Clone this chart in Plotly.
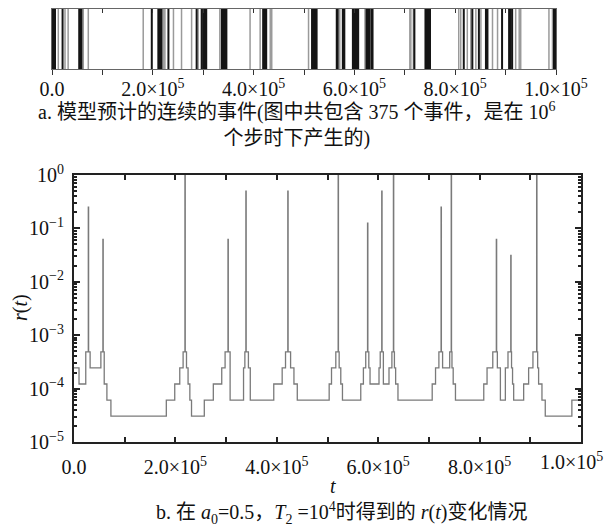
import plotly.graph_objects as go

# ---------------- data ----------------
# event times (top raster), dark = dense/black bands, light = single grey events
events_dark = [2000, 6000, 21000, 54000, 55500, 57000, 58500, 198000, 211000, 212500,
               214000, 215500, 217000, 231000, 287000, 297000, 300000, 301500, 303000,
               304500, 306000, 337000, 338500, 340000, 343000, 344500, 346000, 419000,
               420500, 422000, 423500, 425000, 516000, 517500, 519000, 520500, 522000,
               523500, 525000, 565000, 566500, 577000, 578500, 580000, 597000, 598500,
               600000, 601500, 603000, 604500, 606000, 607500, 624000, 625500, 627000,
               628500, 630000, 634000, 636000, 719000, 741000, 742500, 744000, 745500,
               747000, 748500, 750000, 817000, 834000, 847000, 861000, 862500, 864000,
               893000, 907000, 908500, 910000, 913000, 996000, 997500, 999000]
events_light = [12500, 25800, 32000, 62000, 72000, 181000, 220000, 222000, 224000,
                241000, 257000, 277000, 290000, 333000, 393000, 413000, 433000, 436000,
                509000, 568000, 571000, 621000, 710000, 712000, 717000, 807000, 811000,
                824000, 831000, 841000, 851000, 874000, 884000, 920000, 927000, 930000,
                986000, 993000]

# r(t) step function: change points and values
r_t = [0, 9900, 23200, 28200, 28800, 31800, 53000, 57000, 57600, 59600, 64900, 72800,
       182100, 198700, 208600, 215200, 218800, 219400, 221900, 225000, 228500, 231800,
       257000, 274800, 291400, 298000, 303700, 304300, 307900, 334400, 337000, 339000,
       339600, 344000, 347700, 394000, 410600, 417200, 421700, 422300, 427200, 433800,
       440400, 503300, 507900, 516400, 521000, 521600, 523000, 526200, 529500, 565600,
       570800, 575400, 579000, 579600, 581500, 583900, 601600, 604000, 607000, 607600,
       610200, 621300, 627000, 630000, 630600, 632000, 634400, 639000, 706500, 713100,
       719700, 724000, 724600, 727000, 741000, 744000, 744600, 745500, 747900, 752400,
       808200, 814700, 826000, 833000, 833600, 835000, 841000, 850800, 856000, 861500,
       862100, 863000, 865000, 867200, 886900, 896700, 905200, 912500, 913100, 914500,
       916400, 923000, 929500, 982000, 1000000]
r_val = [2.44e-4, 1.22e-4, 4.88e-4, 0.25, 4.88e-4, 2.44e-4, 4.88e-4, 0.0625, 4.88e-4,
         1.22e-4, 6.1e-5, 3.05e-5,
         6.1e-5, 1.22e-4, 2.44e-4, 4.88e-4, 1.0, 4.88e-4, 2.44e-4, 1.22e-4, 6.1e-5, 3.05e-5,
         6.1e-5, 1.22e-4, 2.44e-4, 4.88e-4, 0.0625, 4.88e-4, 6.1e-5, 2.44e-4, 4.88e-4, 0.5,
         4.88e-4, 2.44e-4, 6.1e-5, 1.22e-4, 2.44e-4, 4.88e-4, 0.5, 4.88e-4, 2.44e-4, 1.22e-4,
         6.1e-5, 1.22e-4, 2.44e-4, 4.88e-4, 1.0, 4.88e-4, 2.44e-4, 1.22e-4, 6.1e-5, 1.22e-4,
         2.44e-4, 4.88e-4, 0.125, 4.88e-4, 2.44e-4, 1.22e-4, 2.44e-4, 4.88e-4, 0.5, 4.88e-4,
         1.22e-4, 2.44e-4, 4.88e-4, 1.0, 4.88e-4, 2.44e-4, 1.22e-4, 6.1e-5, 1.22e-4, 2.44e-4,
         4.88e-4, 0.25, 4.88e-4, 2.44e-4, 4.88e-4, 1.0, 4.88e-4, 2.44e-4, 1.22e-4, 6.1e-5,
         1.22e-4, 2.44e-4, 4.88e-4, 0.0625, 4.88e-4, 2.44e-4, 6.1e-5, 2.44e-4, 4.88e-4, 0.03125,
         4.88e-4, 2.44e-4, 1.22e-4, 6.1e-5, 1.22e-4, 2.44e-4, 4.88e-4, 1.0, 4.88e-4, 2.44e-4,
         1.22e-4, 6.1e-5, 3.05e-5, 6.1e-5, 6.1e-5]

x_tickvals = [0, 1e5, 2e5, 3e5, 4e5, 5e5, 6e5, 7e5, 8e5, 9e5, 1e6]
x_ticktext = ["0.0", "", "2.0×10<sup>5</sup>", "", "4.0×10<sup>5</sup>", "",
              "6.0×10<sup>5</sup>", "", "8.0×10<sup>5</sup>", "", "1.0×10<sup>5</sup>"]
# lower panel: the last label sits left of its tick in the reference, drawn separately
x_ticktext_low = x_ticktext[:-1] + [""]
last_tick_label = x_ticktext[-1]
y_tickvals = [1e-5, 1e-4, 1e-3, 1e-2, 1e-1, 1]
y_ticktext = ["10<sup>−5</sup>", "10<sup>−4</sup>", "10<sup>−3</sup>",
              "10<sup>−2</sup>", "10<sup>−1</sup>", "10<sup>0</sup>"]

caption_a = "a. 模型预计的连续的事件(图中共包含 375 个事件，是在 10<sup>6</sup><br>个步时下产生的)"
caption_b = ("b. 在 <i>a</i><sub>0</sub>=0.5，<i>T</i><sub>2</sub> =10<sup>4</sup>时得到的 "
             "<i>r</i>(<i>t</i>)变化情况")

# ---------------- figure ----------------
W, H = 609, 528
FONT = "Liberation Serif, Noto Sans CJK SC, serif"


def px_x(p):
    return p / W


def px_y(p):
    return 1 - p / H


def raster(ts):
    xs, ys = [], []
    for t in ts:
        xs += [t, t, None]
        ys += [0, 1, None]
    return xs, ys


minor_log_ticks = [m * 10.0 ** e for e in range(-5, 0) for m in range(2, 10)]

fig = go.Figure()

lx, ly = raster(events_light)
fig.add_trace(go.Scatter(x=lx, y=ly, mode="lines", line=dict(color="#9a9a9a", width=1.5),
                         xaxis="x", yaxis="y", hoverinfo="skip", showlegend=False))
dx, dy = raster(events_dark)
fig.add_trace(go.Scatter(x=dx, y=dy, mode="lines", line=dict(color="#151515", width=2),
                         xaxis="x", yaxis="y", hoverinfo="skip", showlegend=False))
# invisible trace for the top tick axis of the raster
fig.add_trace(go.Scatter(x=[0, 1e6], y=[0.5, 0.5], mode="lines", line=dict(width=0),
                         opacity=0, xaxis="x3", yaxis="y", hoverinfo="skip", showlegend=False))

fig.add_trace(go.Scatter(x=r_t, y=r_val, mode="lines",
                         line=dict(color="#7a7a7a", width=1.3, shape="hv"),
                         xaxis="x2", yaxis="y2", showlegend=False))

top_dom_x = [px_x(52), px_x(556)]
top_dom_y = [px_y(69), px_y(9)]
bot_dom_x = [px_x(74), px_x(581)]
bot_dom_y = [px_y(442), px_y(175)]

tickfont = dict(family=FONT, size=20, color="#111")

fig.update_layout(
    width=W, height=H,
    margin=dict(l=0, r=0, t=0, b=0, autoexpand=False),
    paper_bgcolor="white", plot_bgcolor="white",
    font=dict(family=FONT, size=20, color="#111"),
    xaxis=dict(domain=top_dom_x, anchor="y", range=[0, 1e6], tickmode="array",
               tickvals=x_tickvals, ticktext=x_ticktext, ticks="outside", ticklen=5,
               tickcolor="#333", tickwidth=1.2, showline=True, linecolor="#666", linewidth=1,
               mirror=True, showgrid=False, zeroline=False, tickfont=tickfont,
               ticklabelstandoff=-3, ticklabeloverflow="allow", automargin=False),
    xaxis3=dict(overlaying="x", side="top", anchor="y", range=[0, 1e6], tickmode="array",
                tickvals=x_tickvals, ticks="inside", ticklen=4, tickcolor="#333", tickwidth=1.2,
                showticklabels=False, showline=False, showgrid=False, zeroline=False,
                automargin=False),
    yaxis=dict(domain=top_dom_y, anchor="x", range=[0, 1], showticklabels=False, ticks="",
               showline=True, linecolor="#666", linewidth=1, mirror=True, showgrid=False,
               zeroline=False, automargin=False),
    xaxis2=dict(domain=bot_dom_x, anchor="y2", range=[0, 1e6], tickmode="array",
                tickvals=x_tickvals, ticktext=x_ticktext_low, ticks="inside", ticklen=5,
                tickcolor="#222", tickwidth=1.5, showline=True, linecolor="#222", linewidth=2,
                mirror="allticks", showgrid=False, zeroline=False, tickfont=tickfont,
                ticklabelstandoff=6, automargin=False),
    yaxis2=dict(domain=bot_dom_y, anchor="x2", type="log", range=[-5, 0], tickmode="array",
                tickvals=y_tickvals, ticktext=y_ticktext, ticks="inside", ticklen=6,
                tickcolor="#222", tickwidth=1.5, showline=True, linecolor="#222", linewidth=2,
                mirror="allticks", showgrid=False, zeroline=False, tickfont=tickfont,
                minor=dict(ticks="inside", ticklen=3, tickcolor="#222", tickmode="array",
                           tickvals=minor_log_ticks, showgrid=False),
                ticklabelstandoff=4, automargin=False),
    annotations=[
        dict(text=caption_a, x=px_x(297), y=px_y(124), xref="paper", yref="paper",
             showarrow=False, xanchor="center", yanchor="middle", align="center",
             font=dict(family=FONT, size=20, color="#111")),
        dict(text=last_tick_label, x=px_x(571), y=px_y(461), xref="paper", yref="paper",
             showarrow=False, xanchor="center", yanchor="middle",
             font=dict(family=FONT, size=20, color="#111")),
        dict(text="<i>t</i>", x=px_x(333), y=px_y(486), xref="paper", yref="paper",
             showarrow=False, xanchor="center", yanchor="middle",
             font=dict(family=FONT, size=20, color="#111")),
        dict(text="<i>r</i>(<i>t</i>)", x=px_x(20), y=px_y(308), xref="paper", yref="paper",
             showarrow=False, xanchor="center", yanchor="middle", textangle=-90,
             font=dict(family=FONT, size=20, color="#111")),
        dict(text=caption_b, x=px_x(341), y=px_y(513), xref="paper", yref="paper",
             showarrow=False, xanchor="center", yanchor="middle",
             font=dict(family=FONT, size=20, color="#111")),
    ],
)

fig.write_html("out.html", config={"displayModeBar": False},
               post_script="document.body.style.margin='0';document.body.style.overflow='hidden';")
